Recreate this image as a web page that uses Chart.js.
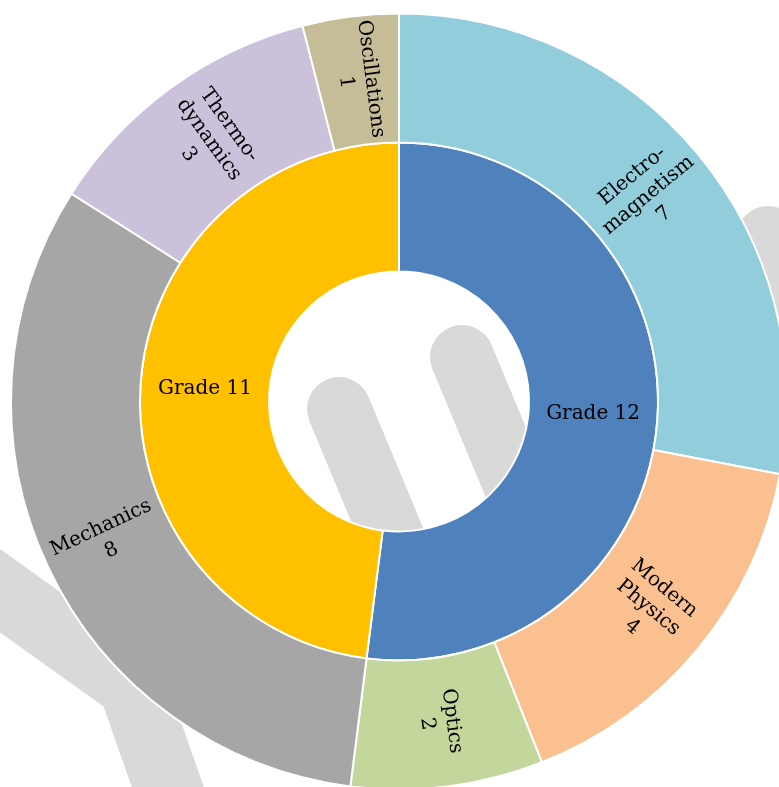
<!DOCTYPE html>
<html>
<head>
<meta charset="utf-8">
<script src="https://cdn.jsdelivr.net/npm/chart.js@4.4.1/dist/chart.umd.min.js"></script>
<style>
  html, body { margin: 0; padding: 0; background: #fff; overflow: hidden; }
  #wrap { width: 779px; height: 787px; overflow: hidden; position: relative; }
  canvas { position: absolute; left: 0; top: 0; }
</style>
</head>
<body>
<div id="wrap"><canvas id="chart" width="798" height="803"></canvas></div>
<script>
const gradeLabels = ['Grade 12', 'Grade 11'];
const gradeValues = [13, 12];
const gradeColors = ['#4F81BD', '#FFC000'];

const topicLabels = ['Electromagnetism', 'Modern Physics', 'Optics', 'Mechanics', 'Thermodynamics', 'Oscillations'];
const topicLines  = [['Electro-', 'magnetism'], ['Modern', 'Physics'], ['Optics'], ['Mechanics'], ['Thermo-', 'dynamics'], ['Oscillations']];
const topicValues = [7, 4, 2, 8, 3, 1];
const topicColors = ['#92CDDC', '#FAC090', '#C3D69B', '#A6A6A6', '#CCC1DA', '#C4BD97'];

const FONT = "20px 'DejaVu Serif', serif";
const LINE_H = 25;

// light grey logo watermark sitting behind the rings
const watermark = {
  id: 'watermark',
  beforeDatasetsDraw(chart) {
    const c = chart.ctx;
    c.save();
    c.strokeStyle = '#d9d9d9';
    c.lineWidth = 64;
    c.lineCap = 'round';
    [[339, 409, 439, 649], [462, 357, 562, 597], [768, 238, 868, 478]].forEach(([x1, y1, x2, y2]) => {
      c.beginPath(); c.moveTo(x1, y1); c.lineTo(x2, y2); c.stroke();
    });
    c.lineCap = 'butt';
    c.lineJoin = 'miter';
    c.lineWidth = 68;
    c.beginPath(); c.moveTo(-60, 548); c.lineTo(132, 685); c.lineTo(190, 850); c.stroke();
    c.restore();
  }
};

// text inside each slice; outer ring text runs along the radius
const sliceLabels = {
  id: 'sliceLabels',
  afterDatasetsDraw(chart) {
    const c = chart.ctx;
    c.save();
    c.font = FONT;
    c.fillStyle = '#000';
    c.textAlign = 'center';
    c.textBaseline = 'middle';
    chart.data.datasets.forEach((ds, di) => {
      chart.getDatasetMeta(di).data.forEach((arc, i) => {
        const p = arc.getProps(['x', 'y', 'startAngle', 'endAngle', 'innerRadius', 'outerRadius'], true);
        const mid = (p.startAngle + p.endAngle) / 2;
        const r = (p.innerRadius + p.outerRadius) / 2;
        const outer = di === 0;
        const lines = outer ? [...topicLines[i], String(topicValues[i])] : [gradeLabels[i]];
        const rot = outer ? (Math.cos(mid) >= 0 ? mid : mid + Math.PI) : 0;
        c.save();
        c.translate(p.x + Math.cos(mid) * r, p.y + Math.sin(mid) * r);
        c.rotate(rot);
        lines.forEach((t, k) => c.fillText(t, 0, (k - (lines.length - 1) / 2) * LINE_H));
        c.restore();
      });
    });
    c.restore();
  }
};

new Chart(document.getElementById('chart'), {
  type: 'doughnut',
  data: {
    labels: topicLabels,
    datasets: [
      { label: 'Topics', data: topicValues, backgroundColor: topicColors },
      { label: 'Grades', data: gradeValues, backgroundColor: gradeColors }
    ]
  },
  options: {
    responsive: false,
    animation: false,
    events: [],
    radius: 388,
    cutout: '33.5%',
    elements: { arc: { borderColor: '#fff', borderWidth: 2 } },
    plugins: { legend: { display: false }, tooltip: { enabled: false } }
  },
  plugins: [watermark, sliceLabels]
});
</script>
</body>
</html>
